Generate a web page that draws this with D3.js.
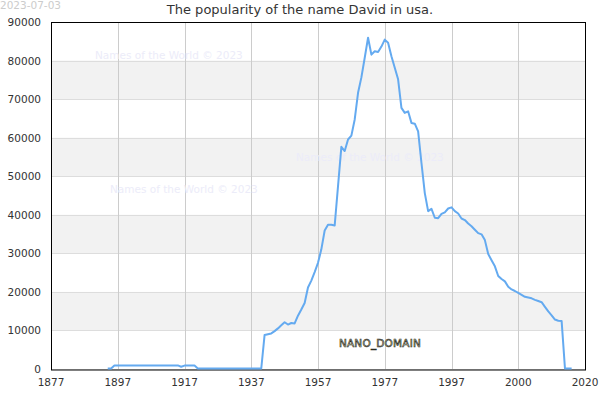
<!DOCTYPE html>
<html><head><meta charset="utf-8">
<script src="https://cdn.jsdelivr.net/npm/d3@7"></script>
<style>body{margin:0;background:#fff}svg{display:block;font-family:"DejaVu Sans",sans-serif}</style>
</head><body><svg id="c" width="600" height="400"></svg>
<script>
const title = "The popularity of the name David in usa.";
const dateLabel = "2023-07-03";
const watermark = "Names of the World © 2023";
const brand = "NANO_DOMAIN";
const xTickLabels = ["1877","1897","1917","1937","1957","1977","1997","2000","2020"];
const yTicks = [0,10000,20000,30000,40000,50000,60000,70000,80000,90000];
const startYear = 1894;
const values = [
  0,0,800,800,800,800,800,800,800,800,800,800,800,800,800,800,800,800,800,800,800,800, // 1894-1915
  450,750,750,750,750, // 1916-1920
  0,0,0,0,0,0,0,0,0,0,0,0,0,0,0,0,0,0,0,0, // 1921-1940
  8700,8900,9100,9700,10400,11200,12000,11400,11800,11700, // 1941-1950
  13700,15300,17000,21000,22800,25000,27400,30900,35800,37300, // 1951-1960
  37300,37100,47300,57500,56400,59400,60400,64600,71500,75500, // 1961-1970
  80600,85800,81400,82300,82100,83500,85300,84500,81000,78000, // 1971-1980
  75000,67600,66300,66700,63700,63500,61500,53300,45500,40800, // 1981-1990
  41400,39100,39000,40100,40500,41500,41800,40800,40200,38900, // 1991-2000
  38500,37600,36900,36000,35100,34800,33300,29700,28100,26500, // 2001-2010
  24000,23200,22600,21200,20500,20100,19600,19100,18600,18400, // 2011-2020
  18200,17800,17500,17200,16000,14800,13800,12700,12400,12300, // 2021-2030
  0,0,0 // 2031-2033
];
const data = values.map((v,i)=>({year:startYear+i, value:v}));

const svg = d3.select("#c");
const L=51, R=585, T=22, B=369;
const x = d3.scaleLinear().domain([1877, 2037]).range([L, R]);
const y = d3.scaleLinear().domain([0, 90000]).range([B, T]);
const tickYears = xTickLabels.map((d,i)=>1877 + i*20);

// bands
const bands = yTicks.slice(0,-1).filter((d,i)=>i%2===1);
svg.append("g").selectAll("rect").data(bands).join("rect")
  .attr("x",L).attr("width",R-L)
  .attr("y",d=>y(d+10000)).attr("height",d=>y(d)-y(d+10000))
  .attr("fill","#f2f2f2");

// horizontal grid
svg.append("g").selectAll("line").data(yTicks).join("line")
  .attr("x1",L).attr("x2",R)
  .attr("y1",d=>Math.round(y(d))+0.5).attr("y2",d=>Math.round(y(d))+0.5)
  .attr("stroke","#dddddd");

// vertical grid
svg.append("g").selectAll("line").data(tickYears).join("line")
  .attr("x1",d=>Math.round(x(d))+0.5).attr("x2",d=>Math.round(x(d))+0.5)
  .attr("y1",T).attr("y2",B)
  .attr("stroke","#cccccc");

// watermarks
const wm = [[95,59],[296,161],[110,193]];
svg.append("g").selectAll("text").data(wm).join("text")
  .attr("x",d=>d[0]).attr("y",d=>d[1])
  .attr("font-size",10.5).attr("fill","#ececf9").text(watermark);

// border
svg.append("rect").attr("x",L+0.5).attr("y",T+0.5).attr("width",R-L).attr("height",B-T+0.5)
  .attr("fill","none").attr("stroke","#000").attr("stroke-width",1);

// line
svg.append("path").datum(data)
  .attr("fill","none").attr("stroke","#64aaf0").attr("stroke-width",2)
  .attr("stroke-linejoin","round")
  .attr("d", d3.line().x(d=>x(d.year)).y(d=>y(d.value)-0.5));

// y axis labels
svg.append("g").selectAll("text").data(yTicks).join("text")
  .attr("x",41).attr("y",d=>y(d)+4).attr("text-anchor","end")
  .attr("font-size",10.5).attr("fill","#333").text(d=>d);

// x axis labels
svg.append("g").selectAll("text").data(xTickLabels).join("text")
  .attr("x",(d,i)=>x(tickYears[i])).attr("y",386).attr("text-anchor","middle")
  .attr("font-size",10.5).attr("fill","#333").text(d=>d);

// title
svg.append("text").attr("x",300).attr("y",14).attr("text-anchor","middle")
  .attr("font-size",13).attr("fill","#333").text(title);

// date
svg.append("text").attr("x",0).attr("y",9).attr("font-size",10.5).attr("fill","#cccccc").text(dateLabel);

// brand
svg.append("text").attr("x",380).attr("y",347).attr("text-anchor","middle")
  .attr("font-size",10.5).attr("fill","#e6e6c4").attr("stroke","#2a2a20").attr("stroke-width",0.6)
  .attr("letter-spacing",0.2)
  .text(brand);
</script></body></html>
